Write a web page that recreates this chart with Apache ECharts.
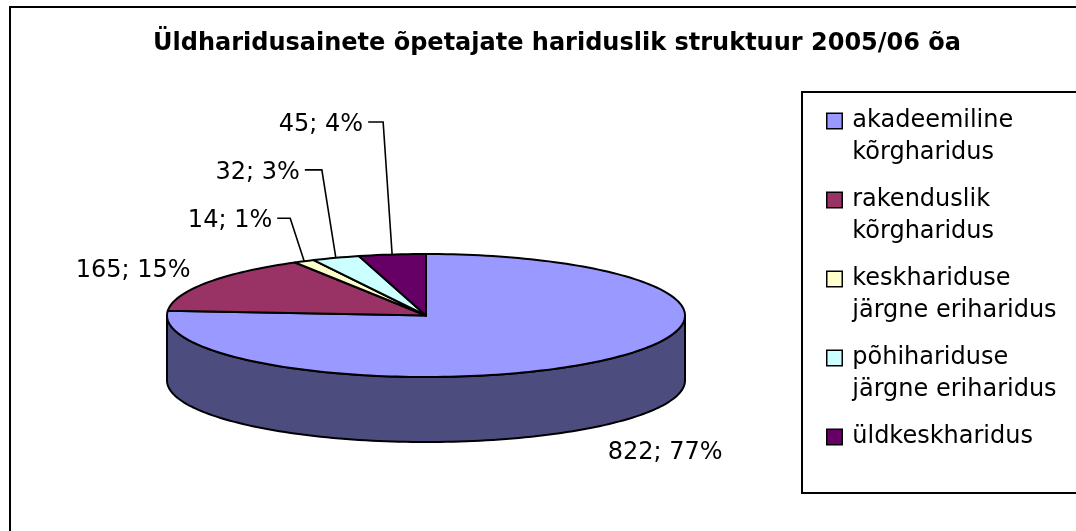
<!DOCTYPE html>
<html>
<head>
<meta charset="utf-8">
<script src="https://cdn.jsdelivr.net/npm/echarts@6/dist/echarts.min.js"></script>
<style>
html, body { margin: 0; padding: 0; background: #fff; }
#chart { width: 1076px; height: 531px; }
</style>
</head>
<body>
<div id="chart"></div>
<script>
var categories = ['akadeemiline\nkõrgharidus', 'rakenduslik\nkõrgharidus', 'keskhariduse\njärgne eriharidus', 'põhihariduse\njärgne eriharidus', 'üldkeskharidus'];
var values = [822, 165, 14, 32, 45];
var percents = [77, 15, 1, 3, 4];

var colors = ['#9999ff', '#993366', '#ffffcc', '#ccffff', '#660066'];
var sideColors = ['#4c4c7f', '#4d1a33', '#808066', '#668080', '#330033'];

// flattened pie: top ellipse and thickness
var cx = 426, cy = 315.5, rx = 259, ry = 61.5, depth = 65;

// label offsets from the rim point at the middle of each slice
var labelPos = [
    {dx: 6, dy: 90, align: 'left'},
    {dx: -16, dy: -15, align: 'right'},
    {dx: -32, dy: -43, align: 'right', elbow: -14},
    {dx: -36, dy: -88, align: 'right', elbow: -14},
    {dx: -29, dy: -132.5, align: 'right', elbow: -9}
];

// legend square sits beside the first text line
var legendIcon = 'path://M0,0M0,8.5L15.5,8.5L15.5,24L0,24ZM0,64';

var total = values.reduce(function (a, b) { return a + b; }, 0);
var starts = [];
var acc = 0;
values.forEach(function (v) { starts.push(acc); acc += v; });

function rim(deg, down) {
    var r = deg * Math.PI / 180;
    return [cx + rx * Math.cos(r), cy - ry * Math.sin(r) + (down || 0)];
}
function arc(a0, a1, down) {
    var pts = [];
    var n = Math.max(2, Math.ceil(Math.abs(a1 - a0) / 1.5));
    for (var i = 0; i <= n; i++) {
        pts.push(rim(a0 + (a1 - a0) * i / n, down));
    }
    return pts;
}

function makeRender(idx) {
    return function (params, api) {
        var v = api.value(0);
        var a0 = 90 - starts[idx] / total * 360;
        var a1 = a0 - v / total * 360;
        var children = [];
        // front wall, only where the slice covers the lower half
        var lo = Math.max(a1, -180), hi = Math.min(a0, 0);
        if (hi > lo) {
            children.push({
                type: 'polygon', z2: 1,
                shape: {points: arc(lo, hi, 0).concat(arc(hi, lo, depth))},
                style: {fill: sideColors[idx], stroke: '#000', lineWidth: 2, lineJoin: 'round'}
            });
        }
        children.push({
            type: 'polygon', z2: 5,
            shape: {points: [[cx, cy]].concat(arc(a0, a1, 0))},
            style: {fill: api.visual('color'), stroke: '#000', lineWidth: 2, lineJoin: 'round'}
        });
        var mid = rim((a0 + a1) / 2);
        var lp = labelPos[idx];
        var tx = mid[0] + lp.dx, ty = mid[1] + lp.dy;
        if (lp.elbow != null) {
            children.push({
                type: 'polyline', z2: 8,
                shape: {points: [[tx + 5, ty], [mid[0] + lp.elbow, ty], mid]},
                style: {stroke: '#000', lineWidth: 1.6, fill: null}
            });
        }
        children.push({
            type: 'text', z2: 10, x: tx, y: ty + 2.5,
            style: {
                text: v + '; ' + percents[idx] + '%',
                align: lp.align, verticalAlign: 'middle',
                font: '24px "DejaVu Sans"', fill: '#000'
            }
        });
        return {type: 'group', children: children};
    };
}

var option = {
    backgroundColor: '#fff',
    animation: false,
    title: {
        text: 'Üldharidusainete õpetajate hariduslik struktuur 2005/06 õa',
        left: 552,
        top: 27,
        textAlign: 'center',
        textStyle: {fontFamily: 'DejaVu Sans', fontSize: 24, fontWeight: 'bold', color: '#000'}
    },
    legend: {
        orient: 'vertical',
        left: 821,
        top: 99,
        icon: legendIcon,
        itemWidth: 15.5,
        itemHeight: 64,
        itemGap: 13.5,
        selectedMode: false,
        itemStyle: {borderColor: '#000', borderWidth: 1.5},
        textStyle: {fontFamily: 'DejaVu Sans', fontSize: 24, color: '#000', lineHeight: 32, padding: [0, 0, 0, 5]},
        formatter: function (name) {
            return name.indexOf('\n') >= 0 ? name : name + '\n ';
        },
        data: categories
    },
    graphic: [
        {type: 'rect', shape: {x: 10, y: 7, width: 1100, height: 600}, style: {fill: null, stroke: '#000', lineWidth: 2}},
        {type: 'rect', shape: {x: 802, y: 92, width: 400, height: 401}, style: {fill: null, stroke: '#000', lineWidth: 2}}
    ],
    series: categories.map(function (name, i) {
        return {
            type: 'custom',
            name: name,
            coordinateSystem: 'none',
            silent: true,
            itemStyle: {color: colors[i]},
            renderItem: makeRender(i),
            data: [[values[i]]]
        };
    })
};

var myChart = echarts.init(document.getElementById('chart'));
myChart.setOption(option);
</script>
</body>
</html>
